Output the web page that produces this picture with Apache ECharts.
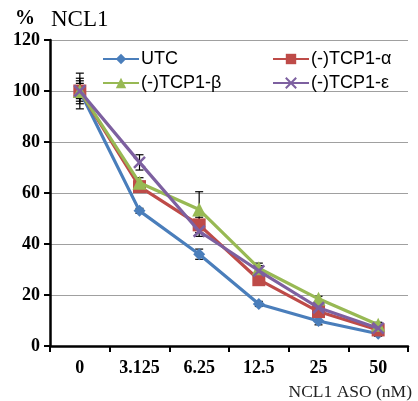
<!DOCTYPE html>
<html><head><meta charset="utf-8">
<script src="https://cdn.jsdelivr.net/npm/echarts@6/dist/echarts.min.js"></script>
<style>html,body{margin:0;padding:0;background:#fff}#c{width:418px;height:401px}</style>
</head><body><div id="c"></div>
<script>
const categories = ['0','3.125','6.25','12.5','25','50'];
const seriesNames = ['UTC','(-)TCP1-α','(-)TCP1-β','(-)TCP1-ε'];
const utc  = [100, 53, 36, 16.5, 9.8, 4.8];
const alpha= [100, 62.5, 47.5, 26, 13.5, 6.3];
const beta = [100, 64, 53.5, 30.5, 18.5, 8.3];
const eps  = [100, 72, 45, 29.5, 15, 7];
const utcErr  = [5, 1, 2, 1, 1.5, 1];
const alphaErr= [7, 2, 3, 1.5, 1.5, 1];
const betaErr = [4, 2, 7, 2, 1, 1];
const epsErr  = [3, 3, 2, 2, 1, 1];
const yTicks = [0,20,40,60,80,100,120];

const colors = ['#4A7EBB','#BE4B48','#98B954','#7D60A0'];
const symbols = ['diamond','rect','triangle','path://M0,0 L10,10 M10,0 L0,10'];
const symSizes = [12,13,14,11];
const vals = [utc, alpha, beta, eps];
const errs = [utcErr, alphaErr, betaErr, epsErr];

const series = [];
vals.forEach((v,i)=>{
  series.push({
    type:'custom', name:'err'+i, z:1, silent:true,
    renderItem:(params, api)=>{
      const x = api.value(0), y = api.value(1), e = api.value(2);
      const top = api.coord([x, y+e]), bot = api.coord([x, y-e]);
      const w = 4;
      const st = {stroke:'#000', lineWidth:1.2};
      return {type:'group', children:[
        {type:'line', shape:{x1:top[0],y1:top[1],x2:bot[0],y2:bot[1]}, style:st},
        {type:'line', shape:{x1:top[0]-w,y1:top[1],x2:top[0]+w,y2:top[1]}, style:st},
        {type:'line', shape:{x1:bot[0]-w,y1:bot[1],x2:bot[0]+w,y2:bot[1]}, style:st}
      ]};
    },
    data: v.map((y,j)=>[j, y, errs[i][j]])
  });
});
vals.forEach((v,i)=>{
  series.push({
    type:'line', name:seriesNames[i], data:v, z:2+i,
    symbol:symbols[i], symbolSize:symSizes[i], showAllSymbol:true,
    lineStyle:{color:colors[i], width:3.2},
    itemStyle:{color:colors[i], borderColor:colors[i], borderWidth: i===3?2.5:0},
    emphasis:{disabled:true}
  });
});

const chart = echarts.init(document.getElementById('c'));
const legendCommon = {
  orient:'vertical', itemWidth:36, itemHeight:13, itemGap:6,
  textStyle:{fontFamily:'Liberation Sans', fontSize:18, color:'#000', padding:[0,0,0,-3]},
  selectedMode:false
};
chart.setOption({
  animation:false,
  color: colors,
  grid:{left:50, right:10, top:40, bottom:55},
  title:[
    {text:'%', left:10, top:4, textStyle:{fontFamily:'Liberation Serif', fontSize:20, fontWeight:'bold', color:'#000'}},
    {text:'NCL1', left:46, top:3, textStyle:{fontFamily:'Liberation Serif', fontSize:23, fontWeight:'normal', color:'#000'}},
    {text:'NCL1 ASO (nM)', right:1, top:378, textStyle:{fontFamily:'Liberation Serif', fontSize:17.5, fontWeight:'normal', color:'#222'}}
  ],
  legend:[
    Object.assign({left:97, top:45, data:[seriesNames[0], seriesNames[2]]}, legendCommon),
    Object.assign({left:267, top:45, data:[seriesNames[1], seriesNames[3]]}, legendCommon)
  ],
  xAxis:{
    type:'category', data:categories, boundaryGap:true,
    axisLine:{lineStyle:{color:'#000', width:2.5}},
    axisTick:{show:true, length:6, lineStyle:{color:'#000', width:2}},
    axisLabel:{fontFamily:'Liberation Serif', fontWeight:'bold', fontSize:18, color:'#000', margin:13}
  },
  yAxis:{
    type:'value', min:0, max:120, interval:20,
    axisLine:{show:true, lineStyle:{color:'#000', width:2.5}},
    axisTick:{show:true, length:6, lineStyle:{color:'#000', width:2}},
    splitLine:{lineStyle:{color:'#A0A0A0', width:1.2}},
    axisLabel:{fontFamily:'Liberation Serif', fontWeight:'bold', fontSize:18, color:'#000', margin:10,
      formatter:(v)=> yTicks.includes(v) ? String(v) : ''}
  },
  series: series
});
</script></body></html>
